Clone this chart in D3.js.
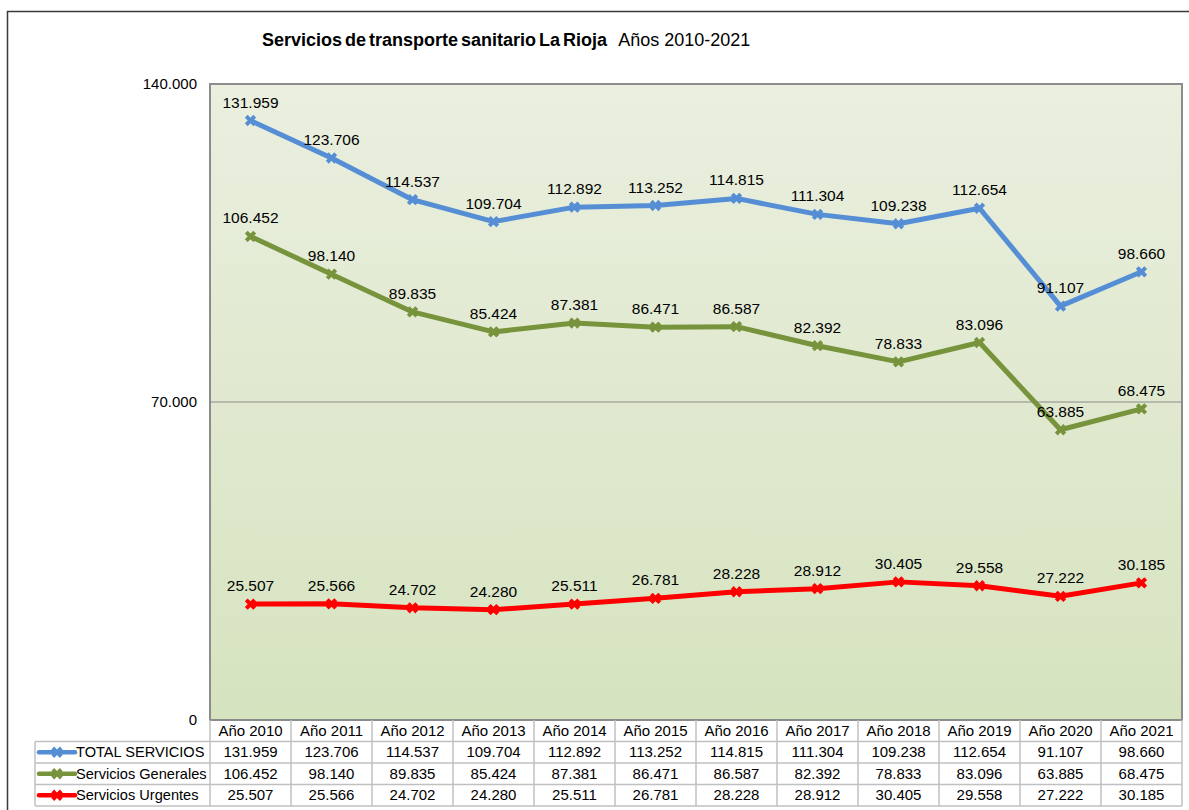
<!DOCTYPE html>
<html lang="es">
  <head>
    <meta charset="utf-8">
    <title>Servicios de transporte sanitario La Rioja</title>
    <script src="https://d3js.org/d3.v7.min.js"></script>
    <style>
      body { margin: 0; background: #fff; }
      text { font-family: "Liberation Sans", Arial, sans-serif; font-size: 15px; fill: #000; }
    </style>
  </head>
  <body>
    <script>
      // data
      var years = ["Año 2010", "Año 2011", "Año 2012", "Año 2013", "Año 2014", "Año 2015",
                   "Año 2016", "Año 2017", "Año 2018", "Año 2019", "Año 2020", "Año 2021"];
      var totalServicios = [131959, 123706, 114537, 109704, 112892, 113252, 114815, 111304, 109238, 112654, 91107, 98660];
      var serviciosGenerales = [106452, 98140, 89835, 85424, 87381, 86471, 86587, 82392, 78833, 83096, 63885, 68475];
      var serviciosUrgentes = [25507, 25566, 24702, 24280, 25511, 26781, 28228, 28912, 30405, 29558, 27222, 30185];
      var seriesNames = ["TOTAL SERVICIOS", "Servicios Generales", "Servicios Urgentes"];
      var yTicks = [0, 70000, 140000];

      var series = [
        {name: seriesNames[0], values: totalServicios, color: "#558ed5"},
        {name: seriesNames[1], values: serviciosGenerales, color: "#77933c"},
        {name: seriesNames[2], values: serviciosUrgentes, color: "#ff0000"}
      ];

      var w = 1189, h = 810;
      var plot = {left: 210, top: 84, right: 1182, bottom: 720};
      var rowH = 21.5;

      var es = d3.formatLocale({decimal: ",", thousands: ".", grouping: [3], currency: ["", " €"]});
      var fmt = es.format(",d");

      var svg = d3.select("body").append("svg")
        .attr("width", w).attr("height", h);

      // gradient background of plot area
      var grad = svg.append("defs").append("linearGradient")
        .attr("id", "bg").attr("x1", 0).attr("y1", 0).attr("x2", 0).attr("y2", 1);
      grad.append("stop").attr("offset", "0%").attr("stop-color", "#eaefdf");
      grad.append("stop").attr("offset", "100%").attr("stop-color", "#d6e3bf");

      // outer frame (runs off the right and bottom edge)
      svg.append("rect")
        .attr("x", 7.5).attr("y", 11.5)
        .attr("width", w + 20).attr("height", h + 20)
        .attr("fill", "none").attr("stroke", "#3a3a3a").attr("stroke-width", 1.5);

      // title
      var title = svg.append("text")
        .attr("x", 262).attr("y", 46)
        .style("font-size", "18px");
      title.append("tspan").style("font-weight", "bold").attr("word-spacing", -2)
        .text("Servicios de transporte sanitario La Rioja");
      title.append("tspan").attr("dx", 11).text("Años 2010-2021");

      var xScale = d3.scaleBand()
        .domain(years)
        .range([plot.left, plot.right]);

      var yScale = d3.scaleLinear()
        .domain([0, 140000])
        .range([plot.bottom, plot.top]);

      svg.append("rect")
        .attr("x", plot.left).attr("y", plot.top)
        .attr("width", plot.right - plot.left).attr("height", plot.bottom - plot.top)
        .attr("fill", "url(#bg)");

      // grid lines
      svg.append("g").selectAll("line")
        .data(yTicks.filter(d => d > 0 && d < 140000)).enter().append("line")
        .attr("x1", plot.left).attr("x2", plot.right)
        .attr("y1", d => yScale(d)).attr("y2", d => yScale(d))
        .attr("stroke", "#8a8a8a").attr("stroke-width", 1);

      svg.append("rect")
        .attr("x", plot.left).attr("y", plot.top)
        .attr("width", plot.right - plot.left).attr("height", plot.bottom - plot.top)
        .attr("fill", "none").attr("stroke", "#8c8c8c").attr("stroke-width", 2);

      // y axis labels
      var yAxis = d3.axisLeft(yScale)
        .tickValues(yTicks)
        .tickFormat(d => fmt(d))
        .tickSize(0)
        .tickPadding(13);
      var gy = svg.append("g")
        .attr("transform", `translate(${plot.left},0)`)
        .call(yAxis);
      gy.select(".domain").remove();
      gy.selectAll("text").style("font-size", "15px").attr("font-family", null).attr("fill", "#000");

      // markers: thick x
      var marker = d3.symbol().type(d3.symbolCross).size(80);

      var line = d3.line()
        .x((d, i) => xScale(years[i]) + xScale.bandwidth() / 2)
        .y(d => yScale(d));

      var chart = svg.append("g").attr("id", "plot");

      series.forEach(function(s) {
        var g = chart.append("g");
        g.append("path")
          .datum(s.values)
          .attr("d", line)
          .attr("fill", "none")
          .attr("stroke", s.color)
          .attr("stroke-width", 5)
          .attr("stroke-linejoin", "round");

        g.selectAll("path.mk")
          .data(s.values).enter().append("path")
          .attr("class", "mk")
          .attr("d", marker)
          .attr("transform", (d, i) => `translate(${xScale(years[i]) + xScale.bandwidth() / 2},${yScale(d)}) rotate(45)`)
          .attr("fill", s.color);

        g.selectAll("text")
          .data(s.values).enter().append("text")
          .attr("x", (d, i) => xScale(years[i]) + xScale.bandwidth() / 2)
          .attr("y", d => yScale(d) - 13)
          .attr("text-anchor", "middle")
          .style("font-size", "15.5px")
          .text(d => fmt(d));
      });

      // data table
      var table = svg.append("g").attr("id", "table");
      var gridColor = "#c0c0c0";
      var legendLeft = 35;
      var headerTop = plot.bottom;
      var bodyTop = headerTop + rowH;
      var tableBottom = bodyTop + rowH * 3;

      // header texts
      table.selectAll("text.hdr")
        .data(years).enter().append("text")
        .attr("class", "hdr")
        .attr("x", d => xScale(d) + xScale.bandwidth() / 2)
        .attr("y", headerTop + 16)
        .attr("text-anchor", "middle")
        .text(d => d);

      // vertical lines
      var bounds = years.map(d => xScale(d)).concat([plot.right]);
      table.selectAll("line.v")
        .data(bounds).enter().append("line")
        .attr("class", "v")
        .attr("x1", d => d).attr("x2", d => d)
        .attr("y1", headerTop).attr("y2", tableBottom)
        .attr("stroke", gridColor).attr("stroke-width", 1.5);
      table.append("line")
        .attr("x1", legendLeft).attr("x2", legendLeft)
        .attr("y1", bodyTop).attr("y2", tableBottom)
        .attr("stroke", gridColor).attr("stroke-width", 1.5);

      // horizontal lines
      table.selectAll("line.h")
        .data([0, 1, 2, 3]).enter().append("line")
        .attr("class", "h")
        .attr("x1", legendLeft).attr("x2", plot.right)
        .attr("y1", d => bodyTop + d * rowH).attr("y2", d => bodyTop + d * rowH)
        .attr("stroke", gridColor).attr("stroke-width", 1.5);

      series.forEach(function(s, r) {
        var cy = bodyTop + r * rowH + rowH / 2;
        table.append("line")
          .attr("x1", legendLeft + 4).attr("x2", legendLeft + 40)
          .attr("y1", cy).attr("y2", cy)
          .attr("stroke", s.color).attr("stroke-width", 4.5)
          .attr("stroke-linecap", "round");
        table.append("path")
          .attr("d", marker)
          .attr("transform", `translate(${legendLeft + 22},${cy}) rotate(45)`)
          .attr("fill", s.color);
        table.append("text")
          .attr("x", legendLeft + 41)
          .attr("y", cy + 5)
          .style("font-size", "14.6px")
          .text(s.name);
        table.selectAll("text.v" + r)
          .data(s.values).enter().append("text")
          .attr("class", "v" + r)
          .attr("x", (d, i) => xScale(years[i]) + xScale.bandwidth() / 2)
          .attr("y", cy + 5)
          .attr("text-anchor", "middle")
          .text(d => fmt(d));
      });
    </script>
  </body>
</html>
